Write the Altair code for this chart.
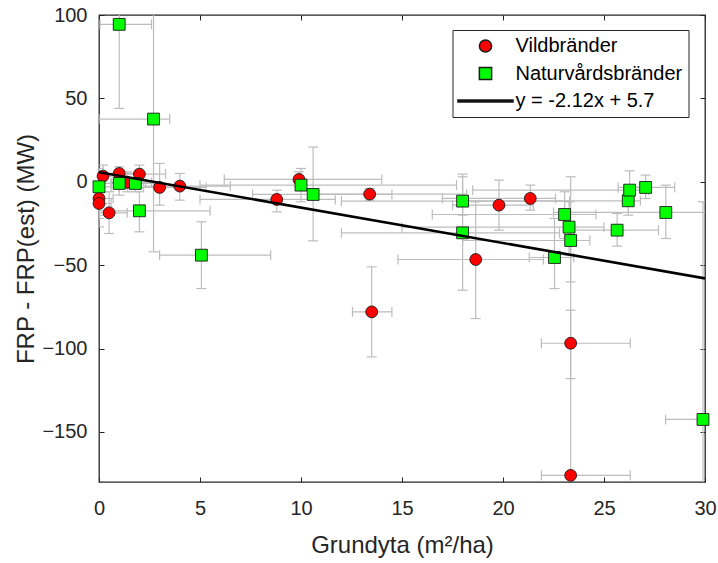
import altair as alt
import pandas as pd

# ---- data ----
series_names = ["Vildbränder", "Naturvårdsbränder"]
fit_label = "y = -2.12x + 5.7"
fit_slope = -2.12
fit_intercept = 5.7
fit_x = [0, 30]

vild_x = [0.2, 1.0, 2.0, 3.0, 4.0, 0.0, 0.0, 0.5, 1.4, 8.8, 9.9, 13.4, 13.5, 18.65, 19.8, 21.35, 23.35, 23.35]
vild_y = [3.4, 5.0, 4.6, -3.4, -2.6, -10, -13, -18.6, -0.4, -10.6, 1.4, -7.4, -78, -46.6, -14, -10, -96.8, -176]
vild_xlo = [0.0, 0.0, 1.0, 1.0, 2.2, 0.0, 0.0, 0.0, 0.6, 5.0, 6.2, 10.4, 12.55, 14.8, 17.5, 17.0, 21.9, 21.9]
vild_xhi = [1.0, 2.1, 3.3, 5.3, 6.5, 0.7, 0.6, 1.4, 2.6, 11.7, 14.0, 18.2, 14.5, 22.0, 21.5, 22.6, 26.3, 26.3]
vild_ylo = [-6, -1, -1, -14, -11, -22, -27, -31, -6, -18, -3, -11, -105, -82, -29, -17, -118, -200]
vild_yhi = [10, 9, 10, 11, 5, 1, -3, -6, 6, -5, 6, -4, -51, -12, 1, -2, -77, -35]

natur_x = [0.0, 1.0, 1.8, 2.0, 1.0, 2.7, 5.07, 10.0, 10.6, 18.0, 18.0, 22.55, 23.05, 23.27, 23.35, 25.65, 26.2, 26.27, 27.06, 28.06, 29.9]
natur_y = [-3, -1, -1, -17.4, 94.4, 37.6, -44, -2, -7.6, -11.6, -30.6, -45.4, -19.6, -27.2, -35.2, -29, -11.4, -5, -3.4, -18.4, -142.5]
natur_xlo = [0.0, 0.0, 0.6, 0.0, 0.05, 0.0, 3.0, 5.0, 7.6, 12.0, 12.0, 21.3, 16.5, 15.0, 18.0, 23.3, 18.0, 18.5, 25.7, 22.5, 28.05]
natur_xhi = [0.6, 2.3, 3.0, 5.5, 2.6, 3.5, 8.5, 17.7, 14.5, 23.3, 22.8, 23.5, 24.6, 25.0, 24.3, 27.7, 26.8, 27.2, 28.5, 31.0, 30.5]
natur_ylo = [-20, -8, -6, -30, 44, -42, -64, -12, -35.4, -20, -65, -64, -34, -44, -60, -38.6, -20, -12, -10, -34, -195]
natur_yhi = [8, 7, 5, -6, 140, 130, -24, 8, 20.8, 4.6, 3, -22, -6, -12, 3, -19, -6, 6.6, 4, -2, -12]

x_ticks = [0, 5, 10, 15, 20, 25, 30]
y_ticks = [-150, -100, -50, 0, 50, 100]

# ---- tables ----
df = pd.concat([
    pd.DataFrame({"x": vild_x, "y": vild_y, "xlo": vild_xlo, "xhi": vild_xhi,
                  "ylo": vild_ylo, "yhi": vild_yhi, "serie": series_names[0]}),
    pd.DataFrame({"x": natur_x, "y": natur_y, "xlo": natur_xlo, "xhi": natur_xhi,
                  "ylo": natur_ylo, "yhi": natur_yhi, "serie": series_names[1]}),
], ignore_index=True)
fit_df = pd.DataFrame({"x": fit_x, "y": [fit_slope * v + fit_intercept for v in fit_x]})

FONT = "Liberation Sans"
AX = "#262626"
ERR = "#bdbdbd"
xs = alt.Scale(domain=[0, 30], nice=False, zero=False)
ys = alt.Scale(domain=[-180, 100], nice=False, zero=False)

x_main = alt.Axis(orient="bottom", values=x_ticks, offset=-5, tickSize=5, domain=False, grid=False,
                  labelFontSize=20, labelPadding=16, labelFlush=False, labelColor=AX, tickColor=AX,
                  title="Grundyta (m²/ha)", titleFontSize=24, titleFontWeight="normal",
                  titleColor=AX, titlePadding=15, format="d")
y_main = alt.Axis(orient="left", values=y_ticks, offset=-5, tickSize=5, domain=False, grid=False,
                  labelFontSize=20, labelPadding=12, labelFlush=False, labelColor=AX, tickColor=AX,
                  title="FRP - FRP(est) (MW)", titleFontSize=24, titleFontWeight="normal",
                  titleColor=AX, titleX=-78, titleBaseline="middle", format="d")
x_top = alt.Axis(orient="top", values=x_ticks, offset=-5, tickSize=5, domain=False, grid=False,
                 labels=False, tickColor=AX, title=None)
y_right = alt.Axis(orient="right", values=y_ticks, offset=-5, tickSize=5, domain=False, grid=False,
                   labels=False, tickColor=AX, title=None)

base = alt.Chart(df)

xbar = base.mark_rule(color=ERR, strokeWidth=1.2, clip=True).encode(
    x=alt.X("xlo:Q", scale=xs, axis=x_main), x2="xhi:Q",
    y=alt.Y("y:Q", scale=ys, axis=y_main))
xcap = base.transform_fold(["xlo", "xhi"], as_=["k", "cx"]).mark_tick(
    orient="vertical", size=10, thickness=1.2, color=ERR, clip=True, opacity=1).encode(
    x=alt.X("cx:Q", scale=xs, axis=None), y=alt.Y("y:Q", scale=ys, axis=None))
ybar = base.mark_rule(color=ERR, strokeWidth=1.2, clip=True).encode(
    x=alt.X("x:Q", scale=xs, axis=None),
    y=alt.Y("ylo:Q", scale=ys, axis=None), y2="yhi:Q")
ycap = base.transform_fold(["ylo", "yhi"], as_=["k", "cy"]).mark_tick(
    orient="horizontal", size=10, thickness=1.2, color=ERR, clip=True, opacity=1).encode(
    x=alt.X("x:Q", scale=xs, axis=None), y=alt.Y("cy:Q", scale=ys, axis=None))

legend_domain = series_names + [fit_label]
LEG = alt.Legend(title=None, orient="none", legendX=353.5, legendY=15,
                 fillColor="white", strokeColor=AX, padding=6,
                 symbolOffset=17, labelOffset=20, symbolSize=150,
                 labelFontSize=20, labelFont=FONT, labelColor="black",
                 rowPadding=7.5, labelLimit=400)
shape_scale = alt.Scale(domain=legend_domain,
                        range=["circle", "square", "M-4.5,-0.16L4.5,-0.16L4.5,0.16L-4.5,0.16Z"])
fill_scale = alt.Scale(domain=legend_domain, range=["#ff0000", "#00ff00", "#000000"])

points = base.mark_point(filled=True, size=140, opacity=1, stroke="#1a1a1a", strokeWidth=0.9).encode(
    x=alt.X("x:Q", scale=xs, axis=None), y=alt.Y("y:Q", scale=ys, axis=None),
    shape=alt.Shape("serie:N", scale=shape_scale, legend=LEG),
    fill=alt.Fill("serie:N", scale=fill_scale, legend=LEG))

fit = alt.Chart(fit_df).mark_line(color="black", strokeWidth=2.6, clip=True).encode(
    x=alt.X("x:Q", scale=xs, axis=x_top), y=alt.Y("y:Q", scale=ys, axis=y_right))

chart = alt.layer(xbar, xcap, ybar, ycap, points, fit).resolve_axis(
    x="independent", y="independent"
).properties(
    width=606, height=467,
    padding={"left": 99, "top": 15, "right": 13, "bottom": 81},
    autosize=alt.AutoSizeParams(type="none"),
    background="white",
).configure_view(stroke=AX, strokeWidth=1.3).configure_axis(
    labelFont=FONT, titleFont=FONT
).configure_legend(labelFont=FONT)

chart.save("out.html", embed_options={"renderer": "svg", "actions": False})
